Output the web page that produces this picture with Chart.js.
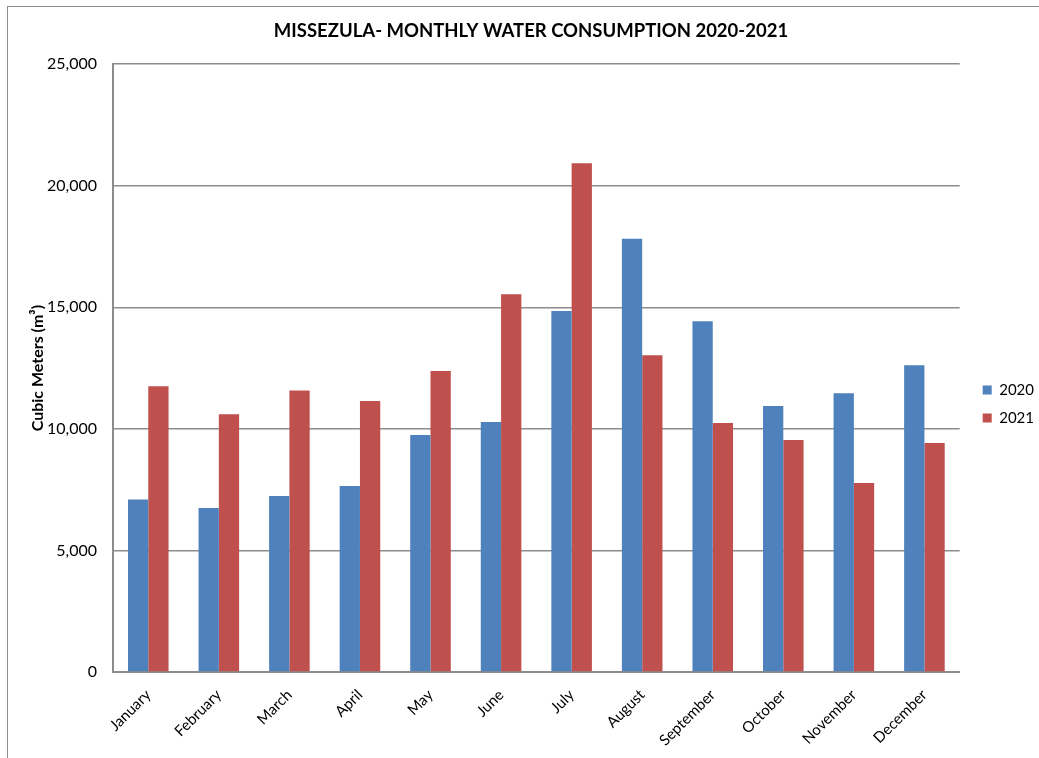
<!DOCTYPE html>
<html>
<head>
<meta charset="utf-8">
<script src="https://cdn.jsdelivr.net/npm/chart.js@4.4.1/dist/chart.umd.min.js"></script>
<style>
  html, body { margin: 0; padding: 0; background: #fff; overflow: hidden; }
  #frame { position: absolute; left: 7px; top: 6px; width: 2000px; height: 2000px;
           border-left: 1px solid #8e8e8e; border-top: 1px solid #8e8e8e; }
  #wrap { position: absolute; left: 0; top: 0; width: 1039px; height: 758px; }
</style>
</head>
<body>
<div id="frame"></div>
<div id="wrap"><canvas id="myChart"></canvas></div>
<script>
const chart = document.getElementById('myChart');

const meses = ['January', 'February', 'March', 'April', 'May', 'June',
  'July', 'August', 'September', 'October', 'November', 'December'];
const consumo2020 = [7100, 6750, 7240, 7650, 9750, 10280, 14850, 17820, 14430, 10940, 11470, 12620];
const consumo2021 = [11750, 10600, 11580, 11150, 12380, 15540, 20930, 13030, 10240, 9540, 7770, 9420];
const ticksY = [0, 5000, 10000, 15000, 20000, 25000];

const fuente = 'Lato, "Open Sans", sans-serif';

// mueve la leyenda a donde la pone Excel
const moverLeyenda = {
  id: 'moverLeyenda',
  afterLayout(c) {
    const l = c.legend;
    const dx = 10, dy = 25;
    l.left += dx; l.right += dx;
    l.top += dy; l.bottom += dy;
  }
};

const datasets = [
  { label: '2020', data: consumo2020, backgroundColor: '#4F81BD' },
  { label: '2021', data: consumo2021, backgroundColor: '#C0504D' }
];

const config = {
  type: 'bar',
  data: { labels: meses, datasets },
  options: {
    responsive: true,
    maintainAspectRatio: false,
    animation: false,
    categoryPercentage: 0.575,
    barPercentage: 1,
    layout: { padding: { left: 28, right: 5, top: 0, bottom: 0 } },
    plugins: {
      title: {
        display: true,
        text: 'MISSEZULA- MONTHLY WATER CONSUMPTION 2020-2021',
        color: '#000',
        font: { family: fuente, size: 18.5, weight: 'bold' },
        padding: { top: 20, bottom: 22 }
      },
      legend: {
        position: 'right',
        labels: {
          color: '#000',
          font: { family: fuente, size: 15 },
          boxWidth: 9,
          boxHeight: 9,
          padding: 13
        }
      },
      tooltip: { enabled: false }
    },
    scales: {
      x: {
        grid: { display: false },
        border: { display: true, color: '#8c8c8c', width: 2 },
        ticks: {
          color: '#000',
          font: { family: fuente, size: 15 },
          maxRotation: 45,
          minRotation: 45,
          padding: 6
        },
        afterFit: (s) => { s.height = 86; }
      },
      y: {
        min: 0,
        max: 25000,
        afterBuildTicks: (s) => { s.ticks = ticksY.map((v) => ({ value: v })); },
        grid: { color: '#8c8c8c', lineWidth: 1.5, drawTicks: false },
        border: { display: true, color: '#8c8c8c', width: 2 },
        ticks: {
          color: '#000',
          font: { family: fuente, size: 16 },
          padding: 16,
          callback: (v) => v.toLocaleString('en-US')
        },
        title: {
          display: true,
          text: 'Cubic Meters (m³)',
          color: '#000',
          font: { family: fuente, size: 16, weight: 'bold' },
          padding: { top: 0, bottom: 0 }
        },
        afterFit: (s) => { s.width = 85; }
      }
    }
  },
  plugins: [moverLeyenda]
};

const myChart = new Chart(chart, config);
</script>
</body>
</html>
